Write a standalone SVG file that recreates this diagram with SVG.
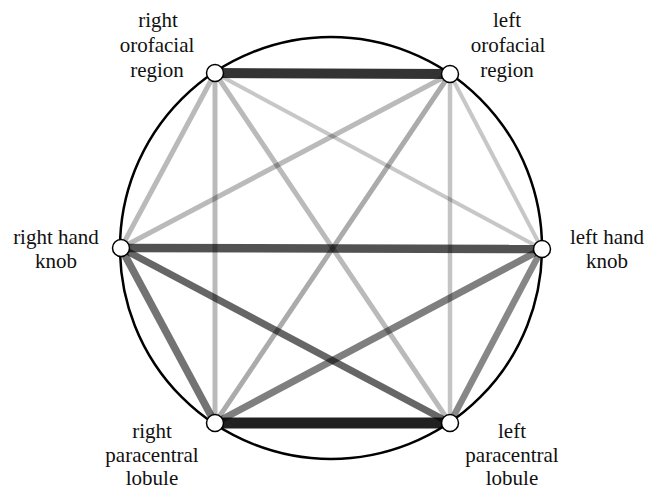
<svg xmlns="http://www.w3.org/2000/svg" width="646" height="490" viewBox="0 0 646 490">
<style>
  .lbl { font-family: 'Liberation Serif', 'DejaVu Serif', serif; font-size: 21px; fill: #111; text-anchor: middle; }
  .node { fill: #ffffff; stroke: #000000; stroke-width: 1.5; }
  .e { stroke: #000000; stroke-linecap: butt; fill: none; }
</style>
<rect width="646" height="490" fill="#ffffff"/>
<circle cx="331" cy="248" r="211" fill="none" stroke="#000" stroke-width="2.5"/>
<g id="connectors">
  <line class="e" x1="215" y1="73" x2="121" y2="248" stroke-width="5" stroke-opacity="0.27"/>
  <line class="e" x1="215" y1="73" x2="215" y2="423" stroke-width="5" stroke-opacity="0.27"/>
  <line class="e" x1="215" y1="73" x2="450" y2="423" stroke-width="5" stroke-opacity="0.27"/>
  <line class="e" x1="215" y1="73" x2="542" y2="249" stroke-width="4" stroke-opacity="0.22"/>
  <line class="e" x1="450" y1="74" x2="121" y2="248" stroke-width="5" stroke-opacity="0.27"/>
  <line class="e" x1="450" y1="74" x2="215" y2="423" stroke-width="5" stroke-opacity="0.33"/>
  <line class="e" x1="450" y1="74" x2="450" y2="423" stroke-width="4.5" stroke-opacity="0.23"/>
  <line class="e" x1="450" y1="74" x2="542" y2="249" stroke-width="4" stroke-opacity="0.22"/>
  <line class="e" x1="121" y1="248" x2="215" y2="423" stroke-width="7.5" stroke-opacity="0.55"/>
  <line class="e" x1="121" y1="248" x2="450" y2="423" stroke-width="7" stroke-opacity="0.6"/>
  <line class="e" x1="542" y1="249" x2="215" y2="423" stroke-width="7" stroke-opacity="0.5"/>
  <line class="e" x1="542" y1="249" x2="450" y2="423" stroke-width="6.5" stroke-opacity="0.47"/>
  <line class="e" x1="121" y1="248" x2="542" y2="249" stroke-width="8.5" stroke-opacity="0.68"/>
  <line class="e" x1="215" y1="73" x2="450" y2="74" stroke-width="10" stroke-opacity="0.8"/>
  <line class="e" x1="215" y1="423" x2="450" y2="423" stroke-width="11" stroke-opacity="0.87"/>
</g>
<g id="n-right-orofacial">
  <circle class="node" cx="215" cy="73" r="8.5"/>
  <text class="lbl" x="158" y="27">right</text>
  <text class="lbl" x="157" y="52">orofacial</text>
  <text class="lbl" x="157" y="77">region</text>
</g>
<g id="n-left-orofacial">
  <circle class="node" cx="450" cy="74" r="8.5"/>
  <text class="lbl" x="507" y="27">left</text>
  <text class="lbl" x="508" y="52">orofacial</text>
  <text class="lbl" x="507" y="77">region</text>
</g>
<g id="n-right-hand">
  <circle class="node" cx="121" cy="248" r="8.5"/>
  <text class="lbl" x="56" y="244">right hand</text>
  <text class="lbl" x="56" y="268">knob</text>
</g>
<g id="n-left-hand">
  <circle class="node" cx="542" cy="249" r="8.5"/>
  <text class="lbl" x="607" y="244">left hand</text>
  <text class="lbl" x="607" y="268">knob</text>
</g>
<g id="n-right-paracentral">
  <circle class="node" cx="215" cy="423" r="8.5"/>
  <text class="lbl" x="152" y="438">right</text>
  <text class="lbl" x="152" y="462">paracentral</text>
  <text class="lbl" x="152" y="485">lobule</text>
</g>
<g id="n-left-paracentral">
  <circle class="node" cx="450" cy="423" r="8.5"/>
  <text class="lbl" x="512" y="438">left</text>
  <text class="lbl" x="512" y="462">paracentral</text>
  <text class="lbl" x="512" y="485">lobule</text>
</g>
</svg>
